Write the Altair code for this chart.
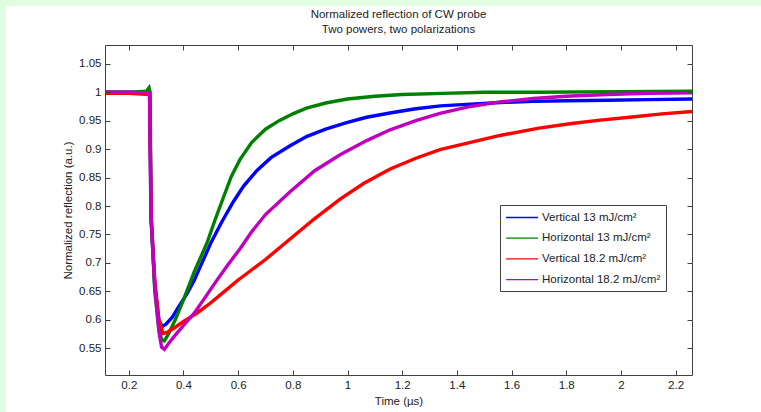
import altair as alt
import pandas as pd

series_names = ["Vertical 13 mJ/cm²", "Horizontal 13 mJ/cm²",
                "Vertical 18.2 mJ/cm²", "Horizontal 18.2 mJ/cm²"]
series_colors = ["#0000FF", "#008000", "#FF0000", "#BF00BF"]

blue_t = [0.113, 0.2, 0.276, 0.281, 0.295, 0.31, 0.322, 0.335, 0.36, 0.385, 0.412, 0.44,
          0.461, 0.5, 0.54, 0.583, 0.62, 0.668, 0.72, 0.79, 0.85, 0.92, 1.0, 1.07, 1.16,
          1.25, 1.34, 1.45, 1.56, 1.68, 1.8, 1.95, 2.1, 2.26]
blue_r = [1.0, 1.0, 0.998, 0.78, 0.66, 0.60, 0.588, 0.592, 0.605, 0.625, 0.645, 0.67,
          0.693, 0.735, 0.772, 0.808, 0.835, 0.862, 0.885, 0.906, 0.922, 0.935, 0.947, 0.956, 0.964,
          0.971, 0.976, 0.979, 0.982, 0.984, 0.985, 0.986, 0.987, 0.988]

green_t = [0.113, 0.2, 0.265, 0.274, 0.278, 0.282, 0.295, 0.31, 0.32, 0.33, 0.345, 0.37,
           0.4, 0.44, 0.486, 0.515, 0.546, 0.575, 0.607, 0.65, 0.7, 0.75, 0.8, 0.85,
           0.92, 1.0, 1.1, 1.2, 1.35, 1.5, 1.7, 2.0, 2.26]
green_r = [1.0, 1.0, 1.002, 1.008, 1.0, 0.78, 0.65, 0.585, 0.565, 0.563, 0.575, 0.60,
           0.635, 0.685, 0.735, 0.775, 0.815, 0.852, 0.882, 0.912, 0.935, 0.950, 0.962, 0.972,
           0.981, 0.988, 0.993, 0.996, 0.998, 1.0, 1.0, 1.001, 1.002]

red_t = [0.113, 0.2, 0.276, 0.282, 0.295, 0.31, 0.325, 0.34, 0.37, 0.4, 0.45, 0.5, 0.55,
         0.6, 0.65, 0.7, 0.79, 0.88, 0.973, 1.06, 1.156, 1.25, 1.338, 1.45, 1.558, 1.7,
         1.82, 1.924, 2.05, 2.15, 2.26]
red_r = [0.998, 0.998, 0.996, 0.78, 0.67, 0.60, 0.576, 0.578, 0.587, 0.597, 0.612, 0.630, 0.650,
         0.670, 0.688, 0.706, 0.742, 0.778, 0.812, 0.840, 0.865, 0.884, 0.899, 0.912, 0.924, 0.937,
         0.945, 0.951, 0.957, 0.962, 0.966]

mag_t = [0.113, 0.2, 0.276, 0.282, 0.295, 0.31, 0.32, 0.33, 0.345, 0.37, 0.4, 0.44, 0.473,
         0.52, 0.56, 0.607, 0.65, 0.7, 0.79, 0.88, 0.973, 1.07, 1.156, 1.25, 1.338, 1.45,
         1.558, 1.68, 1.8, 1.95, 2.1, 2.26]
mag_r = [1.0, 1.0, 0.999, 0.78, 0.66, 0.58, 0.552, 0.548, 0.558, 0.573, 0.59, 0.612, 0.635,
         0.668, 0.695, 0.725, 0.755, 0.785, 0.825, 0.862, 0.89, 0.915, 0.934, 0.950, 0.963, 0.975,
         0.983, 0.989, 0.993, 0.996, 0.998, 0.999]

x_ticks = [0.2, 0.4, 0.6, 0.8, 1.0, 1.2, 1.4, 1.6, 1.8, 2.0, 2.2]
y_ticks = [0.55, 0.6, 0.65, 0.7, 0.75, 0.8, 0.85, 0.9, 0.95, 1.0, 1.05]

# keys prefixed with the plotting order so the last series is drawn on top
series_keys = [f"{k}|{n}" for k, n in enumerate(series_names)]

rows = []
for key, ts, rs in zip(series_keys, [blue_t, green_t, red_t, mag_t],
                       [blue_r, green_r, red_r, mag_r]):
    for i, (t, r) in enumerate(zip(ts, rs)):
        rows.append({"series": key, "t": t, "r": r, "i": i})
df = pd.DataFrame(rows)

W, H = 587, 330
FONT = "Liberation Sans"
TXT = "#222222"
FRAME = "#404040"

xs = alt.Scale(domain=[0.113, 2.26], nice=False, zero=False)
ys = alt.Scale(domain=[0.503, 1.083], nice=False, zero=False)

panel = alt.Chart(pd.DataFrame({"a": [0]})).mark_rect(color="white").encode(
    x=alt.value(-99), x2=alt.value(W + 69), y=alt.value(-39), y2=alt.value(H + 37)
)

lines = alt.Chart(df).mark_line(strokeWidth=3.4).encode(
    x=alt.X("t:Q", scale=xs, axis=alt.Axis(
        orient="bottom", values=x_ticks, format="~g", ticks=False, domain=False,
        grid=False, labelPadding=4, title="Time (µs)", titlePadding=5, zindex=1)),
    y=alt.Y("r:Q", scale=ys, axis=alt.Axis(
        orient="left", values=y_ticks, format="~g", ticks=False, domain=False,
        grid=False, labelPadding=4, title="Normalized reflection (a.u.)",
        titlePadding=5, zindex=1)),
    color=alt.Color("series:N", sort=series_keys,
                    scale=alt.Scale(domain=series_keys, range=series_colors),
                    legend=alt.Legend(
                        title=None, orient="none", legendX=395, legendY=160,
                        direction="vertical", symbolType="M-1,0L4,0", symbolSize=164,
                        symbolStrokeWidth=1.3, symbolFillColor="transparent",
                        symbolOpacity=1, labelExpr="slice(datum.label, 2)",
                        labelFontSize=11.5, labelFont=FONT,
                        labelColor=TXT, strokeColor=FRAME, fillColor="white",
                        padding=5, rowPadding=7.7, labelOffset=22, zindex=1,
                        labelLimit=300)),
    order=alt.Order("i:Q"),
)

ticks_a = alt.Chart(df).mark_point(opacity=0).encode(
    x=alt.X("t:Q", scale=xs, axis=alt.Axis(
        orient="top", offset=-H, values=x_ticks, labels=False, tickSize=5,
        tickColor=FRAME, domainColor=FRAME, grid=False, title=None, zindex=1)),
    y=alt.Y("r:Q", scale=ys, axis=alt.Axis(
        orient="right", offset=-W, values=y_ticks, labels=False, tickSize=5,
        tickColor=FRAME, domainColor=FRAME, grid=False, title=None, zindex=1)),
)

ticks_b = alt.Chart(df).mark_point(opacity=0).encode(
    x=alt.X("t:Q", scale=xs, axis=alt.Axis(
        orient="bottom", offset=-H, values=x_ticks, labels=False, tickSize=5,
        tickColor=FRAME, domainColor=FRAME, grid=False, title=None, zindex=1)),
    y=alt.Y("r:Q", scale=ys, axis=alt.Axis(
        orient="left", offset=-W, values=y_ticks, labels=False, tickSize=5,
        tickColor=FRAME, domainColor=FRAME, grid=False, title=None, zindex=1)),
)

chart = alt.layer(panel, lines, ticks_a, ticks_b).resolve_axis(
    x="independent", y="independent"
).properties(
    width=W, height=H,
    padding={"left": 105, "top": 45, "right": 69, "bottom": 37},
    autosize=alt.AutoSizeParams(type="none"),
    background="#E0FDE0",
    title=alt.TitleParams(
        ["Normalized reflection of CW probe", "Two powers, two polarizations"],
        fontSize=11.5, fontWeight="normal", font=FONT, color=TXT, offset=-29,
        lineHeight=15, anchor="middle", frame="group", zindex=1),
).configure_view(stroke="transparent").configure_axis(
    labelFont=FONT, labelFontSize=11.5, labelColor=TXT,
    titleFont=FONT, titleFontSize=11.5, titleFontWeight="normal", titleColor=TXT,
)

chart.save("out.html", embed_options={"renderer": "svg", "actions": False})
